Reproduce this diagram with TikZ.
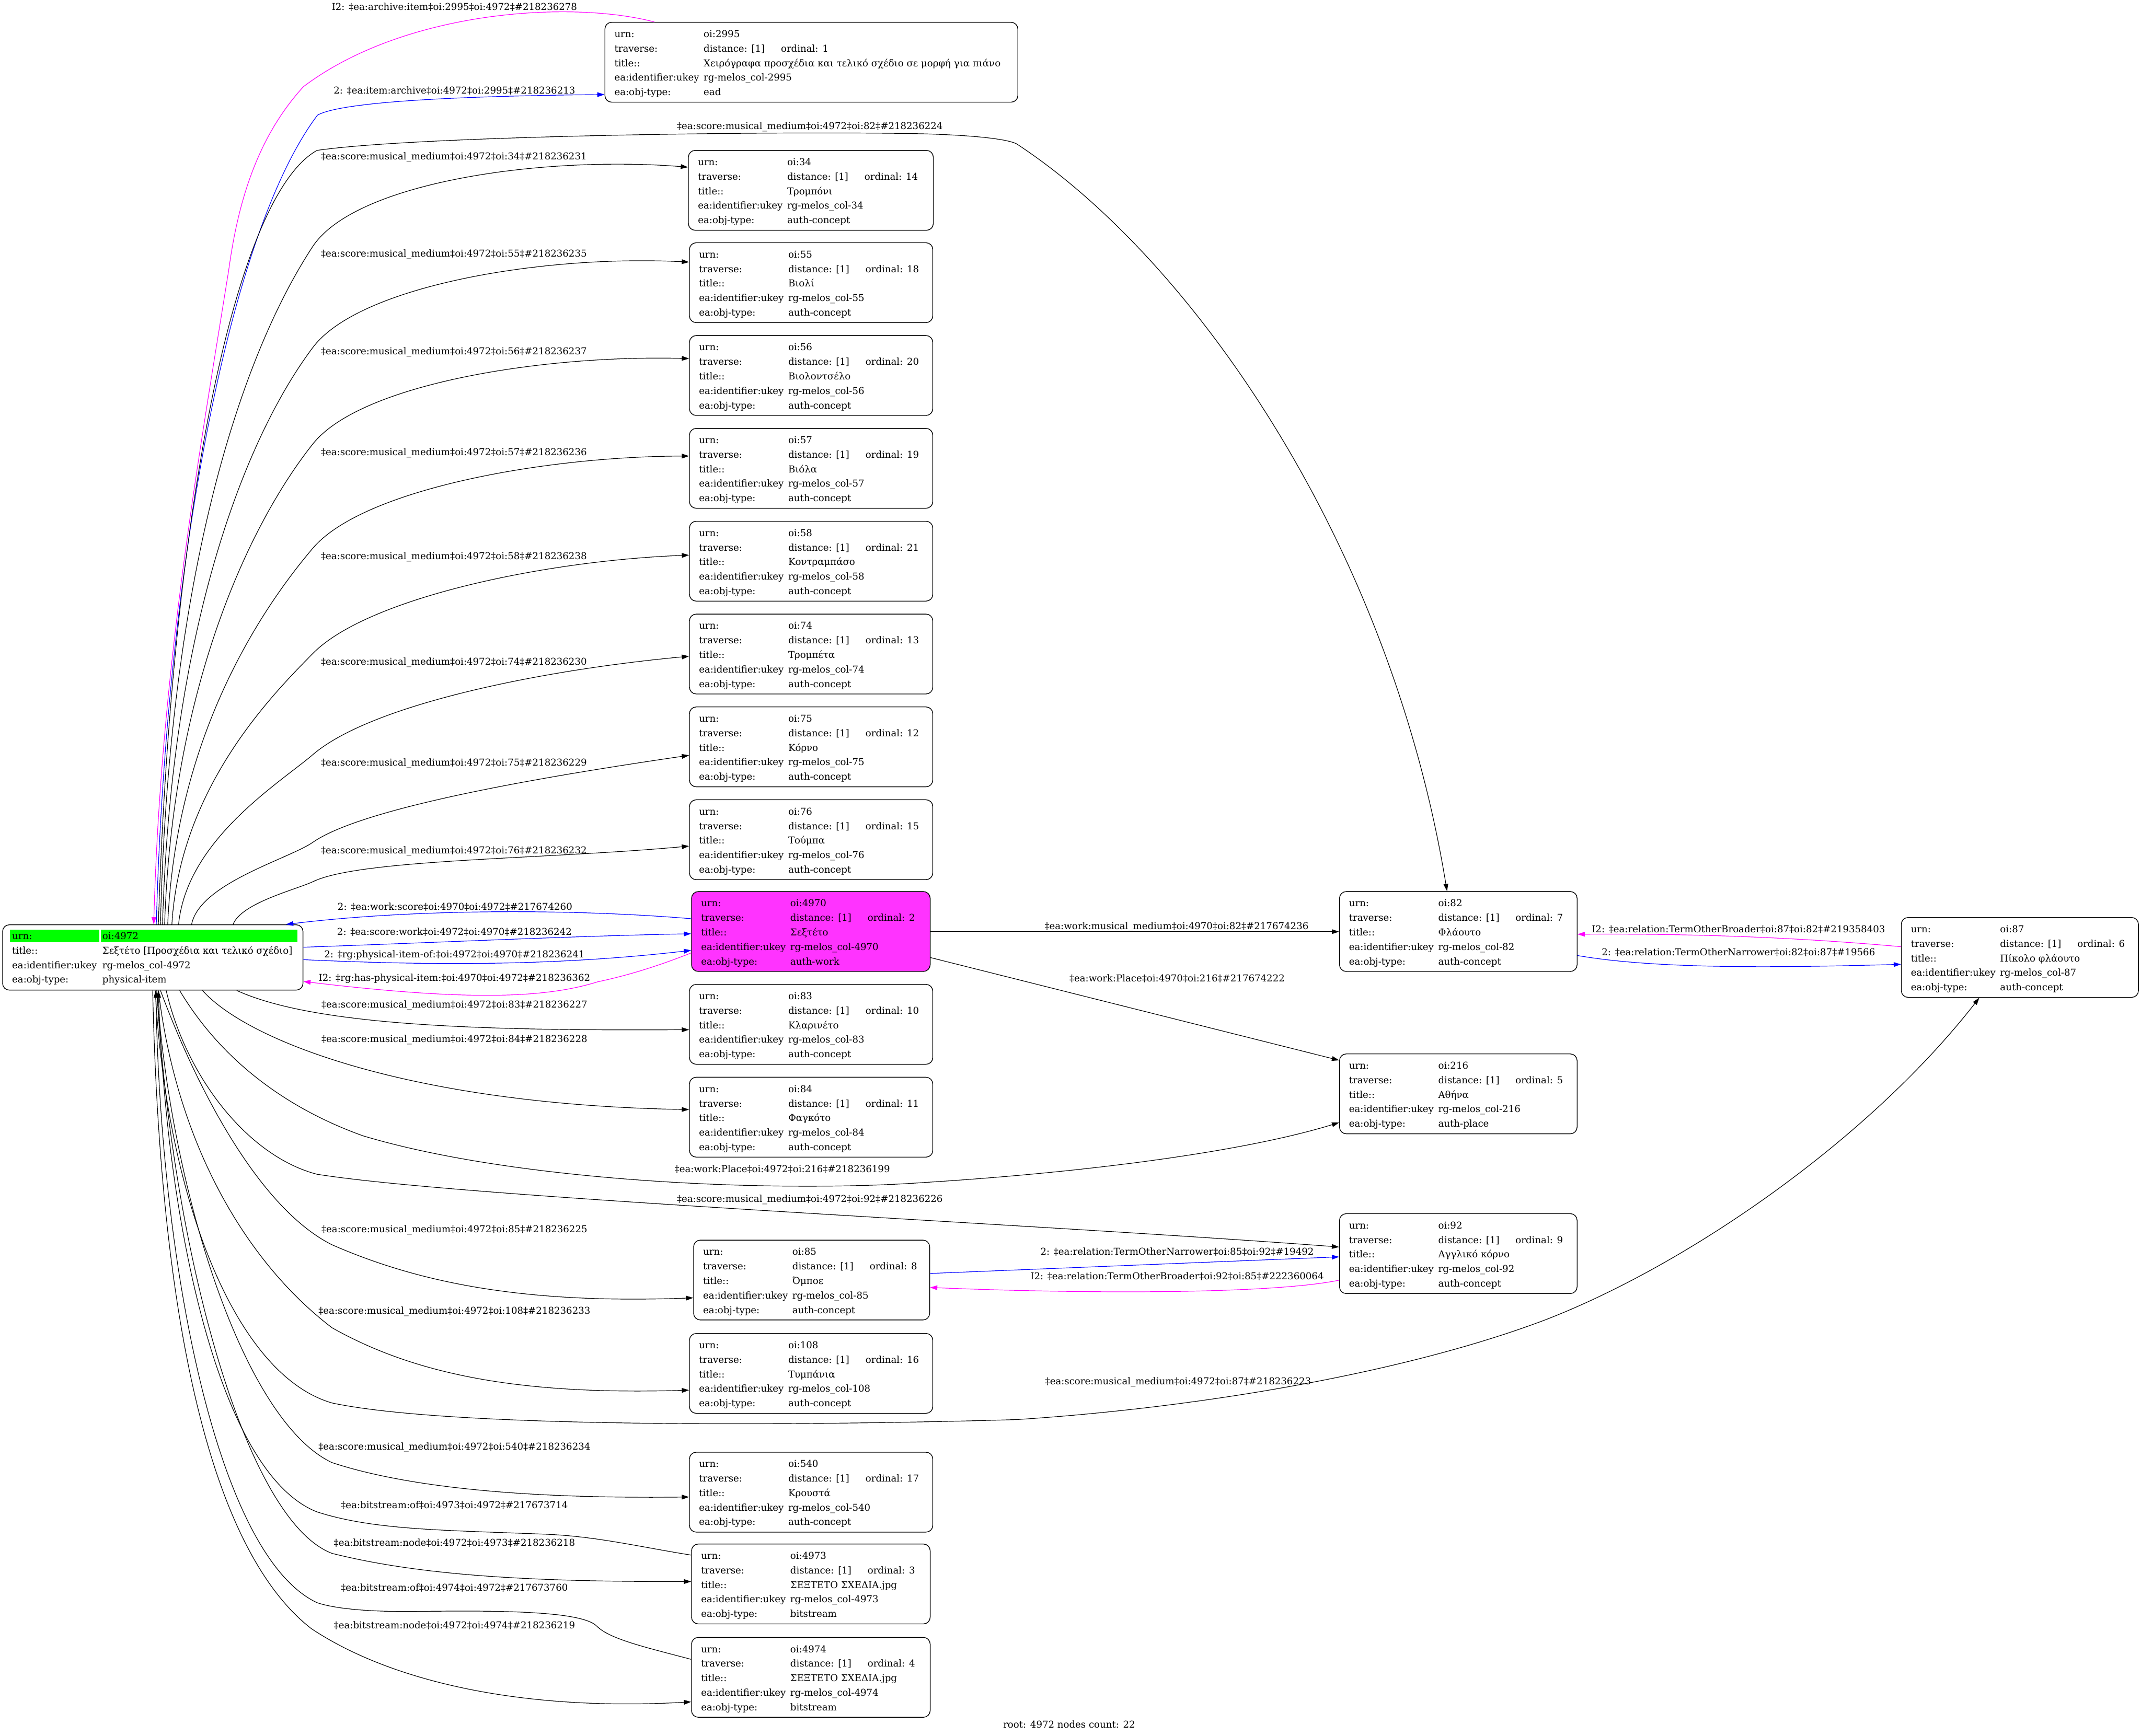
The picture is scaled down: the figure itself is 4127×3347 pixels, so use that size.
\documentclass[tikz,border=0pt]{standalone}
\usepackage{fontspec}
\setmainfont{DejaVu Serif}
\usetikzlibrary{arrows.meta,fit,calc}
\definecolor{mag}{HTML}{FF00FF}
\definecolor{magfill}{HTML}{FF33FF}
\definecolor{grn}{HTML}{00FF00}
\newcommand\nf{\fontsize{9.15pt}{11pt}\selectfont}
\def\curfill{white}
\tikzset{
 objbox/.style={draw, rounded corners=6.5pt, line width=0.7pt, inner sep=0pt, fill=\curfill},
 cell/.style={anchor=base west, inner sep=0pt},
 lbl/.style={anchor=base, inner sep=0pt},
 conn/.style={line width=0.6pt, -{Triangle[length=7pt,width=4.5pt]}},
 bconn/.style={conn, draw=blue},
 mconn/.style={conn, draw=mag},
}
\newcommand\objbox[8]{%
 \coordinate (#1-a) at (#2,#3);
 \coordinate (#1-b) at (#4,{#3+154});
 \node[objbox, fit=(#1-a)(#1-b)] (#1) {};
 \node[cell] (#1-k1) at ({#2+18},{#3+29}) {urn:};
 \node[cell] (#1-v1) at ({#2+190},{#3+29}) {oi:#5};
 \node[cell] (#1-k2) at ({#2+18},{#3+57}) {traverse:};
 \node[cell] (#1-v2) at ({#2+190},{#3+57}) {distance: [1]};
 \node[cell] (#1-o2) at ({#2+339},{#3+57}) {ordinal: #6};
 \node[cell] (#1-k3) at ({#2+18},{#3+85}) {title::};
 \node[cell] (#1-v3) at ({#2+190},{#3+85}) {#7};
 \node[cell] (#1-k4) at ({#2+18},{#3+113}) {ea:identifier:ukey};
 \node[cell] (#1-v4) at ({#2+190},{#3+113}) {rg-melos\_col-#5};
 \node[cell] (#1-k5) at ({#2+18},{#3+141}) {ea:obj-type:};
 \node[cell] (#1-v5) at ({#2+190},{#3+141}) {#8};
}
\begin{document}
\begin{tikzpicture}[x=0.5pt,y=-0.5pt,font=\nf]
\useasboundingbox (0,0) rectangle (4127,3347);
\fill[white] (0,0) rectangle (4127,3347);

% root node
\coordinate (root-a) at (5,1783);
\coordinate (root-b) at (584,1909);
\node[objbox, fit=(root-a)(root-b)] (root) {};
\fill[grn] (19,1792) rectangle (191,1817);
\fill[grn] (194,1792) rectangle (573,1817);
\node[cell] (root-k1) at (23,1811) {urn:};
\node[cell] (root-v1) at (197,1811) {oi:4972};
\node[cell] (root-k2) at (23,1839) {title::};
\node[cell] (root-v2) at (197,1839) {Σεξτέτο [Προσχέδια και τελικό σχέδιο]};
\node[cell] (root-k3) at (23,1867) {ea:identifier:ukey};
\node[cell] (root-v3) at (197,1867) {rg-melos\_col-4972};
\node[cell] (root-k4) at (23,1895) {ea:obj-type:};
\node[cell] (root-v4) at (197,1895) {physical-item};

\objbox{n2995}{1166}{43}{1962}{2995}{1}{Χειρόγραφα προσχέδια και τελικό σχέδιο σε μορφή για πιάνο}{ead}
\objbox{n34}{1327}{290}{1799}{34}{14}{Τρομπόνι}{auth-concept}
\objbox{n55}{1329}{468}{1798}{55}{18}{Βιολί}{auth-concept}
\objbox{n56}{1329}{647}{1798}{56}{20}{Βιολοντσέλο}{auth-concept}
\objbox{n57}{1329}{826}{1798}{57}{19}{Βιόλα}{auth-concept}
\objbox{n58}{1329}{1005}{1798}{58}{21}{Κοντραμπάσο}{auth-concept}
\objbox{n74}{1329}{1184}{1798}{74}{13}{Τρομπέτα}{auth-concept}
\objbox{n75}{1329}{1363}{1798}{75}{12}{Κόρνο}{auth-concept}
\objbox{n76}{1329}{1542}{1798}{76}{15}{Τούμπα}{auth-concept}
\def\curfill{magfill}
\objbox{n4970}{1333}{1719}{1793}{4970}{2}{Σεξτέτο}{auth-work}
\def\curfill{white}
\objbox{n83}{1329}{1898}{1798}{83}{10}{Κλαρινέτο}{auth-concept}
\objbox{n84}{1329}{2077}{1798}{84}{11}{Φαγκότο}{auth-concept}
\objbox{n85}{1337}{2391}{1792}{85}{8}{Όμποε}{auth-concept}
\objbox{n108}{1329}{2571}{1798}{108}{16}{Τυμπάνια}{auth-concept}
\objbox{n540}{1329}{2800}{1798}{540}{17}{Κρουστά}{auth-concept}
\objbox{n4973}{1333}{2977}{1793}{4973}{3}{ΣΕΞΤΕΤΟ ΣΧΕΔΙΑ.jpg}{bitstream}
\objbox{n4974}{1333}{3157}{1793}{4974}{4}{ΣΕΞΤΕΤΟ ΣΧΕΔΙΑ.jpg}{bitstream}
\objbox{n82}{2582}{1719}{3040}{82}{7}{Φλάουτο}{auth-concept}
\objbox{n216}{2582}{2032}{3040}{216}{5}{Αθήνα}{auth-place}
\objbox{n92}{2582}{2340}{3040}{92}{9}{Αγγλικό κόρνο}{auth-concept}
\objbox{n87}{3665}{1769}{4122}{87}{6}{Πίκολο φλάουτο}{auth-concept}

% edges: root -> 2995 / 2995 -> root
\draw[mconn] ($(n2995.north west)+(96,0)$) .. controls (1100,0) and (780,20) .. (585,167) .. controls (500,260) and (460,380) .. (441,520) .. controls (380,900) and (310,1300) .. ($(root.north west)+(292,0)$);
\draw[bconn] ($(root.north west)+(297,0)$) .. controls (320,1100) and (440,450) .. (612,222) .. controls (660,195) and (900,185) .. ($(n2995.north west)+(0,140)$);
% root -> 82 (long)
\draw[conn] ($(root.north west)+(301,0)$) .. controls (330,1000) and (450,380) .. (611,290) .. controls (800,262) and (1500,252) .. (1780,258) .. controls (1880,261) and (1940,268) .. (1959,277) .. controls (2300,500) and (2680,1050) .. ($(n82.north west)+(208,0)$);
% upper fan
\draw[conn] ($(root.north west)+(305,0)$) .. controls (325,1129) and (456,699) .. (603,475) .. controls (686,350) and (1050,300) .. ($(n34.north west)+(0,33)$);
\draw[conn] ($(root.north west)+(309,0)$) .. controls (329,1227) and (465,854) .. (603,670) .. controls (693,550) and (1050,491) .. ($(n55.north west)+(0,38)$);
\draw[conn] ($(root.north west)+(313,0)$) .. controls (333,1319) and (483,1007) .. (603,856) .. controls (696,739) and (1050,684) .. ($(n56.north west)+(0,45)$);
\draw[conn] ($(root.north west)+(319,0)$) .. controls (339,1420) and (502,1176) .. (603,1057) .. controls (700,943) and (1050,880) .. ($(n57.north west)+(0,54)$);
\draw[conn] ($(root.north west)+(327,0)$) .. controls (347,1521) and (520,1344) .. (603,1260) .. controls (708,1153) and (1050,1081) .. ($(n58.north west)+(0,66)$);
\draw[conn] ($(root.north west)+(340,0)$) .. controls (360,1619) and (540,1509) .. (603,1455) .. controls (717,1357) and (1050,1291) .. ($(n74.north west)+(0,82)$);
\draw[conn] ($(root.north west)+(365,0)$) .. controls (385,1703) and (557,1656) .. (603,1624) .. controls (701,1556) and (1050,1497) .. ($(n75.north west)+(0,94)$);
\draw[conn] ($(root.north west)+(445,0)$) .. controls (465,1741) and (571,1715) .. (603,1700) .. controls (693,1656) and (1050,1657) .. ($(n76.north west)+(0,90)$);
% root <-> 4970
\draw[bconn] ($(n4970.north west)+(0,53)$) .. controls (1100,1752) and (800,1752) .. ($(root.north west)+(547,0)$);
\draw[bconn] ($(root.north east)+(0,44)$) .. controls (900,1815) and (1100,1805) .. ($(n4970.north west)+(0,82)$);
\draw[bconn] ($(root.north east)+(0,68)$) .. controls (800,1860) and (1050,1865) .. ($(n4970.north west)+(0,114)$);
\draw[mconn] ($(n4970.north west)+(0,119)$) .. controls (1250,1870) and (1190,1885) .. (1152,1893) .. controls (1050,1925) and (900,1930) .. ($(root.north east)+(0,110)$);
% 4970 -> 82, 216
\draw[conn] ($(n4970.north east)+(0,78)$) -- ($(n82.north west)+(0,78)$);
\draw[conn] ($(n4970.north east)+(0,128)$) -- ($(n216.north west)+(0,13)$);
% 82 <-> 87
\draw[mconn] ($(n87.north west)+(0,57)$) .. controls (3450,1806) and (3250,1800) .. ($(n82.north east)+(0,83)$);
\draw[bconn] ($(n82.north east)+(0,124)$) .. controls (3200,1870) and (3450,1865) .. ($(n87.north west)+(0,91)$);
% 85 <-> 92
\draw[bconn] ($(n85.north east)+(0,65)$) -- ($(n92.north west)+(0,84)$);
\draw[mconn] ($(n92.north west)+(0,129)$) .. controls (2450,2495) and (2100,2495) .. ($(n85.north east)+(0,92)$);
% lower fan
\draw[conn] ($(root.south west)+(452,0)$) .. controls (600,1975) and (900,1988) .. ($(n83.north west)+(0,88)$);
\draw[conn] ($(root.south west)+(386,0)$) .. controls (480,2010) and (800,2130) .. ($(n84.north west)+(0,63)$);
\draw[conn] ($(root.south west)+(342,0)$) .. controls (430,2050) and (560,2140) .. (700,2190) .. controls (1000,2280) and (1500,2300) .. (1780,2280) .. controls (2100,2260) and (2400,2220) .. ($(n216.north west)+(0,133)$);
\draw[conn] ($(root.south west)+(316,0)$) .. controls (360,2080) and (480,2230) .. (611,2264) .. controls (900,2310) and (2000,2360) .. ($(n92.north west)+(0,65)$);
\draw[conn] ($(root.south west)+(305,0)$) .. controls (380,2100) and (500,2330) .. (640,2400) .. controls (800,2470) and (1000,2515) .. ($(n85.north west)+(0,112)$);
\draw[conn] ($(root.south west)+(301,0)$) .. controls (340,2200) and (470,2430) .. (640,2560) .. controls (800,2650) and (1000,2690) .. ($(n108.north west)+(0,110)$);
\draw[conn] ($(root.south west)+(298,0)$) .. controls (330,2300) and (470,2740) .. (640,2820) .. controls (780,2866) and (1000,2890) .. ($(n540.north west)+(0,87)$);
\draw[conn] ($(root.south west)+(295,0)$) .. controls (320,2300) and (450,2650) .. (640,2705) .. controls (900,2760) and (1700,2745) .. (1960,2737) .. controls (2300,2715) and (2700,2650) .. (2978,2545) .. controls (3250,2440) and (3600,2200) .. ($(n87.south west)+(151,0)$);
\draw[conn] ($(n4973.north west)+(0,22)$) .. controls (1230,2982) and (1150,2962) .. (1050,2958) .. controls (850,2950) and (720,2950) .. (611,2915) .. controls (420,2840) and (320,2350) .. ($(root.south west)+(301,0)$);
\draw[conn] ($(root.south west)+(298,0)$) .. controls (330,2400) and (470,2930) .. (640,2995) .. controls (800,3035) and (1000,3050) .. ($(n4973.north west)+(0,73)$);
\draw[conn] ($(n4974.north west)+(0,43)$) .. controls (1240,3175) and (1175,3160) .. (1150,3135) .. controls (1120,3105) and (950,3105) .. (800,3107) .. controls (700,3108) and (640,3100) .. (611,3090) .. controls (420,3000) and (310,2450) .. ($(root.south west)+(296,0)$);
\draw[conn] ($(root.south west)+(290,0)$) .. controls (310,2600) and (420,3000) .. (600,3140) .. controls (750,3240) and (1000,3300) .. ($(n4974.north west)+(0,125)$);

% edge labels
\node[lbl] (l01) at (876,20) {I2: ‡ea:archive:item‡oi:2995‡oi:4972‡\#218236278};
\node[lbl] (l02) at (876,181) {2: ‡ea:item:archive‡oi:4972‡oi:2995‡\#218236213};
\node[lbl] (l03) at (1561,249) {‡ea:score:musical\_medium‡oi:4972‡oi:82‡\#218236224};
\node[lbl] (l04) at (875,308) {‡ea:score:musical\_medium‡oi:4972‡oi:34‡\#218236231};
\node[lbl] (l05) at (875,495) {‡ea:score:musical\_medium‡oi:4972‡oi:55‡\#218236235};
\node[lbl] (l06) at (875,684) {‡ea:score:musical\_medium‡oi:4972‡oi:56‡\#218236237};
\node[lbl] (l07) at (875,878) {‡ea:score:musical\_medium‡oi:4972‡oi:57‡\#218236236};
\node[lbl] (l08) at (875,1079) {‡ea:score:musical\_medium‡oi:4972‡oi:58‡\#218236238};
\node[lbl] (l09) at (875,1282) {‡ea:score:musical\_medium‡oi:4972‡oi:74‡\#218236230};
\node[lbl] (l10) at (875,1477) {‡ea:score:musical\_medium‡oi:4972‡oi:75‡\#218236229};
\node[lbl] (l11) at (875,1646) {‡ea:score:musical\_medium‡oi:4972‡oi:76‡\#218236232};
\node[lbl] (l12) at (877,1755) {2: ‡ea:work:score‡oi:4970‡oi:4972‡\#217674260};
\node[lbl] (l13) at (876,1803) {2: ‡ea:score:work‡oi:4972‡oi:4970‡\#218236242};
\node[lbl] (l14) at (876,1846) {2: ‡rg:physical-item-of:‡oi:4972‡oi:4970‡\#218236241};
\node[lbl] (l15) at (876,1892) {I2: ‡rg:has-physical-item:‡oi:4970‡oi:4972‡\#218236362};
\node[lbl] (l16) at (876,1943) {‡ea:score:musical\_medium‡oi:4972‡oi:83‡\#218236227};
\node[lbl] (l17) at (876,2010) {‡ea:score:musical\_medium‡oi:4972‡oi:84‡\#218236228};
\node[lbl] (l18) at (876,2376) {‡ea:score:musical\_medium‡oi:4972‡oi:85‡\#218236225};
\node[lbl] (l19) at (876,2533) {‡ea:score:musical\_medium‡oi:4972‡oi:108‡\#218236233};
\node[lbl] (l20) at (876,2795) {‡ea:score:musical\_medium‡oi:4972‡oi:540‡\#218236234};
\node[lbl] (l21) at (876,2908) {‡ea:bitstream:of‡oi:4973‡oi:4972‡\#217673714};
\node[lbl] (l22) at (876,2981) {‡ea:bitstream:node‡oi:4972‡oi:4973‡\#218236218};
\node[lbl] (l23) at (876,3067) {‡ea:bitstream:of‡oi:4974‡oi:4972‡\#217673760};
\node[lbl] (l24) at (876,3140) {‡ea:bitstream:node‡oi:4972‡oi:4974‡\#218236219};
\node[lbl] (l25) at (2268,1792) {‡ea:work:musical\_medium‡oi:4970‡oi:82‡\#217674236};
\node[lbl] (l26) at (2269,1893) {‡ea:work:Place‡oi:4970‡oi:216‡\#217674222};
\node[lbl] (l27) at (1508,2260) {‡ea:work:Place‡oi:4972‡oi:216‡\#218236199};
\node[lbl] (l28) at (1561,2318) {‡ea:score:musical\_medium‡oi:4972‡oi:92‡\#218236226};
\node[lbl] (l29) at (2271,2670) {‡ea:score:musical\_medium‡oi:4972‡oi:87‡\#218236223};
\node[lbl] (l30) at (3351,1798) {I2: ‡ea:relation:TermOtherBroader‡oi:87‡oi:82‡\#219358403};
\node[lbl] (l31) at (3351,1842) {2: ‡ea:relation:TermOtherNarrower‡oi:82‡oi:87‡\#19566};
\node[lbl] (l32) at (2269,2420) {2: ‡ea:relation:TermOtherNarrower‡oi:85‡oi:92‡\#19492};
\node[lbl] (l33) at (2269,2467) {I2: ‡ea:relation:TermOtherBroader‡oi:92‡oi:85‡\#222360064};
\node[lbl] (foot) at (2061,3331) {root: 4972 nodes count: 22};
\end{tikzpicture}
\end{document}
